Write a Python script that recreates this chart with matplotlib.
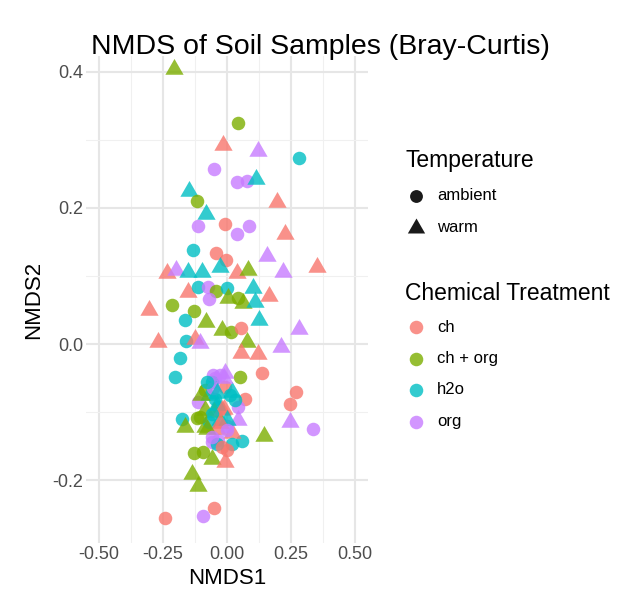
import matplotlib
matplotlib.use("Agg")
import matplotlib.pyplot as plt
from matplotlib.ticker import MultipleLocator

plt.rcParams['font.family'] = ['Liberation Sans', 'DejaVu Sans']

# NMDS scores
nmds1 = [
    -0.206, 0.042, -0.017, 0.122, 0.282, -0.050, 0.038, 0.077, 0.113, -0.148,
    -0.118, 0.194, -0.082, -0.008, -0.112, 0.087, 0.038, 0.227, -0.132, -0.044,
    -0.004, 0.155, 0.350, -0.233, -0.197, -0.151, -0.099, -0.027, 0.038, 0.083,
    0.218, -0.151, -0.112, -0.073, -0.044, -0.001, 0.103, -0.069, 0.005, 0.044,
    0.064, 0.109, 0.165, -0.303, -0.216, -0.128, -0.164, -0.082, 0.126, -0.021,
    0.016, 0.054, 0.279, -0.271, -0.158, -0.125, -0.105, 0.077, 0.210, 0.054,
    0.120, -0.184, 0.138, -0.203, 0.051, 0.268, 0.246, 0.246, 0.337, 0.146,
    -0.177, -0.164, -0.115, -0.129, -0.095, -0.060, -0.008, 0.057, -0.138, -0.112,
    -0.242, -0.095, -0.051, 0.070, 0.044, -0.027, -0.045, -0.060, -0.086, -0.008,
    0.018, -0.047, 0.031, -0.086, -0.034, -0.118, -0.086, -0.027, 0.044, 0.018,
    -0.034, -0.060, 0.018, -0.070, -0.012, -0.050, -0.010, -0.040, 0.000, -0.070,
    -0.055, -0.100, 0.000, -0.054, -0.008, -0.079, -0.040, 0.012, -0.040, -0.021,
    -0.060, -0.105, -0.001, -0.027, -0.001, -0.079, -0.040, -0.060, -0.021,
]
nmds2 = [
    0.404, 0.325, 0.292, 0.284, 0.273, 0.257, 0.238, 0.240, 0.243, 0.225,
    0.210, 0.208, 0.191, 0.177, 0.173, 0.174, 0.161, 0.161, 0.138, 0.134,
    0.123, 0.130, 0.113, 0.104, 0.109, 0.106, 0.106, 0.113, 0.104, 0.109,
    0.106, 0.077, 0.084, 0.084, 0.078, 0.082, 0.082, 0.066, 0.067, 0.067,
    0.060, 0.062, 0.070, 0.050, 0.057, 0.049, 0.035, 0.033, 0.036, 0.021,
    0.018, 0.024, 0.022, 0.003, 0.005, 0.008, 0.002, 0.003, -0.004, -0.013,
    -0.015, -0.020, -0.042, -0.049, -0.049, -0.070, -0.088, -0.115, -0.124, -0.135,
    -0.110, -0.121, -0.085, -0.160, -0.158, -0.168, -0.173, -0.142, -0.190, -0.209,
    -0.256, -0.252, -0.240, -0.080, -0.092, -0.045, -0.050, -0.055, -0.067, -0.063,
    -0.070, -0.080, -0.082, -0.097, -0.092, -0.109, -0.121, -0.111, -0.111, -0.131,
    -0.141, -0.143, -0.146, -0.075, -0.050, -0.100, -0.095, -0.125, -0.120, -0.115,
    -0.065, -0.075, -0.155, -0.045, -0.043, -0.055, -0.072, -0.075, -0.089, -0.097,
    -0.102, -0.107, -0.111, -0.116, -0.126, -0.124, -0.146, -0.136, -0.151,
]
chem = [
    'ch + org', 'ch + org', 'ch', 'org', 'h2o', 'org', 'org', 'org', 'h2o', 'h2o',
    'ch + org', 'ch', 'h2o', 'ch', 'org', 'org', 'org', 'ch', 'h2o', 'ch',
    'ch', 'org', 'ch', 'ch', 'org', 'h2o', 'h2o', 'h2o', 'ch', 'ch + org',
    'org', 'ch', 'h2o', 'org', 'ch + org', 'h2o', 'h2o', 'org', 'ch + org', 'ch + org',
    'ch + org', 'h2o', 'ch', 'ch', 'ch + org', 'ch + org', 'h2o', 'ch + org', 'h2o', 'ch + org',
    'ch + org', 'ch', 'org', 'ch', 'h2o', 'ch', 'org', 'ch + org', 'org', 'ch',
    'ch', 'h2o', 'ch', 'h2o', 'ch + org', 'ch', 'ch', 'org', 'org', 'ch + org',
    'h2o', 'ch + org', 'org', 'ch + org', 'ch + org', 'ch + org', 'ch', 'h2o', 'ch + org', 'ch + org',
    'ch', 'org', 'ch', 'ch', 'org', 'org', 'org', 'h2o', 'ch + org', 'ch',
    'h2o', 'h2o', 'h2o', 'ch + org', 'h2o', 'ch + org', 'ch + org', 'h2o', 'org', 'ch',
    'org', 'org', 'h2o', 'h2o', 'org', 'ch + org', 'ch', 'ch', 'org', 'h2o',
    'org', 'ch + org', 'ch', 'org', 'org', 'h2o', 'h2o', 'h2o', 'h2o', 'ch',
    'h2o', 'ch + org', 'h2o', 'ch', 'org', 'ch + org', 'h2o', 'org', 'ch',
]
temp = [
    'warm', 'ambient', 'warm', 'warm', 'ambient', 'ambient', 'ambient', 'ambient', 'warm', 'warm',
    'ambient', 'warm', 'warm', 'ambient', 'ambient', 'ambient', 'ambient', 'warm', 'ambient', 'ambient',
    'ambient', 'warm', 'warm', 'warm', 'warm', 'warm', 'warm', 'warm', 'warm', 'warm',
    'warm', 'warm', 'ambient', 'ambient', 'ambient', 'ambient', 'warm', 'ambient', 'warm', 'ambient',
    'warm', 'warm', 'warm', 'warm', 'ambient', 'ambient', 'ambient', 'warm', 'warm', 'warm',
    'ambient', 'ambient', 'warm', 'warm', 'ambient', 'warm', 'warm', 'warm', 'warm', 'warm',
    'warm', 'ambient', 'ambient', 'ambient', 'ambient', 'ambient', 'ambient', 'warm', 'ambient', 'warm',
    'ambient', 'warm', 'ambient', 'ambient', 'ambient', 'warm', 'warm', 'ambient', 'warm', 'warm',
    'ambient', 'ambient', 'ambient', 'ambient', 'ambient', 'ambient', 'ambient', 'ambient', 'ambient', 'ambient',
    'warm', 'ambient', 'ambient', 'warm', 'ambient', 'ambient', 'warm', 'warm', 'warm', 'warm',
    'ambient', 'ambient', 'ambient', 'warm', 'warm', 'warm', 'warm', 'warm', 'ambient', 'ambient',
    'ambient', 'warm', 'ambient', 'ambient', 'warm', 'ambient', 'warm', 'ambient', 'warm', 'warm',
    'ambient', 'ambient', 'warm', 'warm', 'ambient', 'warm', 'ambient', 'ambient', 'ambient',
]

chem_levels = ['ch', 'ch + org', 'h2o', 'org']
temp_levels = ['ambient', 'warm']
colors = {'ch': '#F8766D', 'ch + org': '#7CAE00', 'h2o': '#00BFC4', 'org': '#C77CFF'}
tri = [(0, 1), (-0.866, -0.5), (0.866, -0.5)]
markers = {'ambient': 'o', 'warm': tri}
sizes = {'ambient': 95, 'warm': 230}

fig = plt.figure(figsize=(6.23, 5.89), dpi=100)
ax = fig.add_axes([86 / 623, 1 - 543 / 589, 282 / 623, 487 / 589])

for i in range(len(nmds1)):
    ax.scatter(nmds1[i], nmds2[i], s=sizes[temp[i]], marker=markers[temp[i]],
               color=colors[chem[i]], alpha=0.8, linewidths=0, zorder=3)

ax.set_xlim(-0.55, 0.55)
ax.set_ylim(-0.292, 0.423)
ax.xaxis.set_minor_locator(MultipleLocator(0.125))
ax.yaxis.set_minor_locator(MultipleLocator(0.1))
ax.set_xticks([-0.5, -0.25, 0, 0.25, 0.5])
ax.set_xticklabels(['-0.50', '-0.25', '0.00', '0.25', '0.50'])
ax.set_yticks([-0.2, 0.0, 0.2, 0.4])
ax.set_yticklabels(['-0.2', '0.0', '0.2', '0.4'])
ax.grid(True, which='major', color='#E6E6E6', linewidth=1.5, zorder=0)
ax.grid(True, which='minor', color='#F0F0F0', linewidth=0.8, zorder=0)
ax.set_axisbelow(True)
for s in ax.spines.values():
    s.set_visible(False)
ax.tick_params(which='both', length=0, labelsize=13, labelcolor='#4D4D4D', pad=2)

ax.set_xlabel('NMDS1', fontsize=16, labelpad=4)
ax.set_ylabel('NMDS2', fontsize=16, labelpad=6)
fig.text(320 / 623, 1 - 47 / 589, 'NMDS of Soil Samples (Bray-Curtis)',
         fontsize=20.5, ha='center', va='center')

# legends drawn on an overlay in pixel units
lax = fig.add_axes([0, 0, 1, 1])
lax.set_xlim(0, 623)
lax.set_ylim(589, 0)
lax.axis('off')

lax.text(405, 161, 'Temperature', fontsize=16.5, va='center')
for j, t in enumerate(temp_levels):
    y = 196 + j * 32
    lax.scatter(416, y, s=sizes[t] * 0.9, marker=markers[t], color='#1A1A1A', linewidths=0)
    lax.text(437, y, t, fontsize=12, va='center')

lax.text(405, 293, 'Chemical Treatment', fontsize=16.5, va='center')
for j, c in enumerate(chem_levels):
    y = 327 + j * 31.5
    lax.scatter(416, y, s=95, marker='o', color=colors[c], alpha=0.8, linewidths=0)
    lax.text(437, y, c, fontsize=12, va='center')

fig.savefig('out.png', dpi=100)
